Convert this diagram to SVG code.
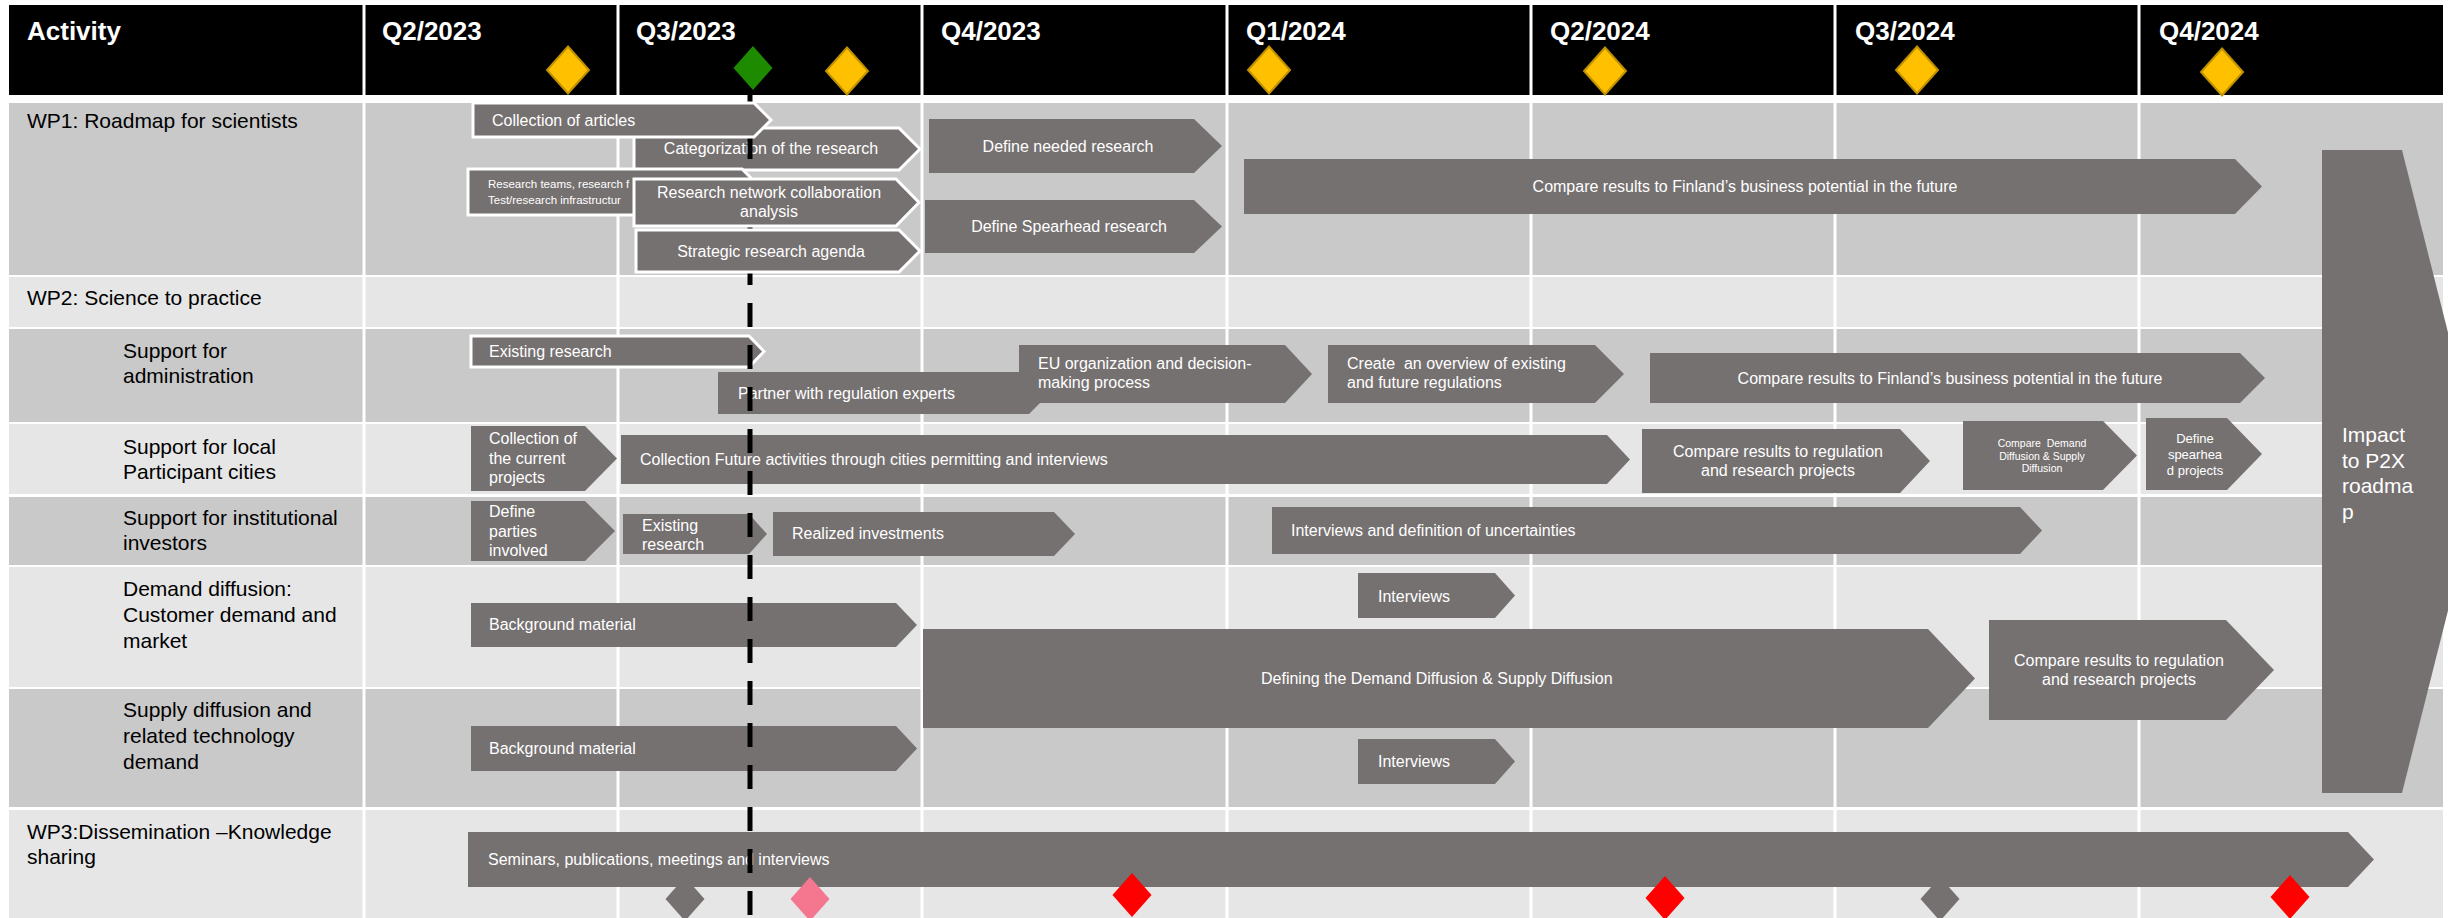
<svg xmlns="http://www.w3.org/2000/svg" xmlns:xlink="http://www.w3.org/1999/xlink" width="2448" height="918" viewBox="0 0 2448 918">
<style>
.hdr{font-family:"Liberation Sans",Arial,sans-serif;font-weight:bold;font-size:26px;fill:#fff}
.lbl{font-family:"Liberation Sans",Arial,sans-serif;font-size:21px;fill:#000}
.t{font-family:"Liberation Sans",Arial,sans-serif;font-size:16px;fill:#fff}
.ts{font-family:"Liberation Sans",Arial,sans-serif;font-size:11.5px;fill:#fff}
.c{text-anchor:middle}
.sh{fill:#767171}
.ws{stroke:#fff;stroke-width:3}
.dark{fill:#C9C9C9}
.light{fill:#E6E6E6}
.vl{stroke:#fff;stroke-width:3}
.gold{fill:#FFC000;stroke:#BF9000;stroke-width:2}
.green{fill:#1E8A00}
.red{fill:#FF0000}
.pink{fill:#F4768F}
.grey{fill:#767171}
</style>
<defs>
<path id="dia" d="M0,-23.5 L21,0 L0,23.5 L-21,0 Z"/>
<path id="dia2" d="M0,-22 L19.5,0 L0,22 L-19.5,0 Z"/>
</defs>
<rect width="2448" height="918" fill="#fff"/>
<g id="background">
<rect class="dark" x="9" y="103" width="2434" height="172"/>
<rect class="light" x="9" y="277" width="2434" height="50"/>
<rect class="dark" x="9" y="329" width="2434" height="93"/>
<rect class="light" x="9" y="424" width="2434" height="70"/>
<rect class="dark" x="9" y="497" width="2434" height="68"/>
<rect class="light" x="9" y="567" width="2434" height="120"/>
<rect class="dark" x="9" y="689" width="2434" height="118"/>
<rect class="light" x="9" y="810" width="2434" height="108"/>
<rect x="9" y="5" width="2434" height="90" fill="#000"/>
<g class="vl">
<line x1="364" y1="5" x2="364" y2="918"/>
<line x1="618" y1="5" x2="618" y2="918"/>
<line x1="922" y1="5" x2="922" y2="918"/>
<line x1="1227" y1="5" x2="1227" y2="918"/>
<line x1="1531" y1="5" x2="1531" y2="918"/>
<line x1="1835" y1="5" x2="1835" y2="918"/>
<line x1="2139" y1="5" x2="2139" y2="918"/>
</g>
</g>
<g id="header">
<text class="hdr" x="27" y="40">Activity</text>
<text class="hdr" x="382" y="40">Q2/2023</text>
<text class="hdr" x="636" y="40">Q3/2023</text>
<text class="hdr" x="941" y="40">Q4/2023</text>
<text class="hdr" x="1246" y="40">Q1/2024</text>
<text class="hdr" x="1550" y="40">Q2/2024</text>
<text class="hdr" x="1855" y="40">Q3/2024</text>
<text class="hdr" x="2159" y="40">Q4/2024</text>
</g>
<g id="milestones-top">
<use href="#dia" x="568" y="70" class="gold"/>
<use href="#dia" x="847" y="71" class="gold"/>
<use href="#dia" x="1269" y="70" class="gold"/>
<use href="#dia" x="1605" y="71" class="gold"/>
<use href="#dia" x="1917" y="70" class="gold"/>
<use href="#dia" x="2222" y="72" class="gold"/>
<path class="green" d="M753,46 L772.5,68 L753,90 L733.5,68 Z"/>
</g>
<g id="row-labels">
<text class="lbl" x="27" y="128">WP1: Roadmap for scientists</text>
<text class="lbl" x="27" y="305">WP2: Science to practice</text>
<text class="lbl" x="123" y="358">Support for</text>
<text class="lbl" x="123" y="383">administration</text>
<text class="lbl" x="123" y="454">Support for local</text>
<text class="lbl" x="123" y="479">Participant cities</text>
<text class="lbl" x="123" y="525">Support for institutional</text>
<text class="lbl" x="123" y="550">investors</text>
<text class="lbl" x="123" y="596">Demand diffusion:</text>
<text class="lbl" x="123" y="622">Customer demand and</text>
<text class="lbl" x="123" y="648">market</text>
<text class="lbl" x="123" y="717">Supply diffusion and</text>
<text class="lbl" x="123" y="743">related technology</text>
<text class="lbl" x="123" y="769">demand</text>
<text class="lbl" x="27" y="839">WP3:Dissemination –Knowledge</text>
<text class="lbl" x="27" y="864">sharing</text>
</g>
<g id="milestones-behind">
<use href="#dia2" x="685" y="899" class="grey"/>
<use href="#dia2" x="1940" y="899" class="grey"/>
</g>
<g id="n-categorization">
<path class="sh ws" d="M634 128 H899 L920 149 L899 170 H634 Z"/>
<text class="t c" x="771" y="154">Categorization of the research</text>
</g>
<g id="n-define-needed">
<path class="sh" d="M929 119 H1194 L1222 146 L1194 173 H929 Z"/>
<text class="t c" x="1068" y="152">Define needed research</text>
</g>
<g id="n-define-spearhead">
<path class="sh" d="M925 200 H1194 L1222 226.5 L1194 253 H925 Z"/>
<text class="t c" x="1069" y="232">Define Spearhead research</text>
</g>
<g id="n-compare-wp1">
<path class="sh" d="M1244 159 H2235 L2262 186.5 L2235 214 H1244 Z"/>
<text class="t c" x="1745" y="192">Compare results to Finland’s business potential in the future</text>
</g>
<g id="n-existing-admin">
<path class="sh ws" d="M471 336 H749 L764 351.5 L749 367 H471 Z"/>
<text class="t" x="489" y="357">Existing research</text>
</g>
<g id="n-partner">
<path class="sh" d="M718 372 H1029 L1050 393 L1029 414 H718 Z"/>
<text class="t" x="738" y="399">Partner with regulation experts</text>
</g>
<g id="n-eu">
<path class="sh" d="M1019 345 H1285 L1312 374 L1285 403 H1019 Z"/>
<text class="t" x="1038" y="369">EU organization and decision-</text>
<text class="t" x="1038" y="388">making process</text>
</g>
<g id="n-create">
<path class="sh" d="M1328 345 H1595 L1624 374 L1595 403 H1328 Z"/>
<text class="t" x="1347" y="369" xml:space="preserve">Create  an overview of existing</text>
<text class="t" x="1347" y="388">and future regulations</text>
</g>
<g id="n-compare-admin">
<path class="sh" d="M1650 353 H2240 L2265 378 L2240 403 H1650 Z"/>
<text class="t c" x="1950" y="384">Compare results to Finland’s business potential in the future</text>
</g>
<g id="n-collection-current">
<path class="sh" d="M471 426 H585 L617 458.5 L585 491 H471 Z"/>
<text class="t" x="489" y="444">Collection of</text>
<text class="t" x="489" y="464">the current</text>
<text class="t" x="489" y="483">projects</text>
</g>
<g id="n-collection-future">
<path class="sh" d="M621 435 H1607 L1630 459.5 L1607 484 H621 Z"/>
<text class="t" x="640" y="465">Collection Future activities through cities permitting and interviews</text>
</g>
<g id="n-compare-reg1">
<path class="sh" d="M1642 429 H1900 L1930 461 L1900 493 H1642 Z"/>
<text class="t c" x="1778" y="457">Compare results to regulation</text>
<text class="t c" x="1778" y="476">and research projects</text>
</g>
<g id="n-compare-demand">
<path class="sh" d="M1963 421 H2103 L2137 455.5 L2103 490 H1963 Z"/>
<text class="t c" x="2042" y="447" style="font-size:10.5px" xml:space="preserve">Compare  Demand</text>
<text class="t c" x="2042" y="459.5" style="font-size:10.5px">Diffusion &amp; Supply</text>
<text class="t c" x="2042" y="472" style="font-size:10.5px">Diffusion</text>
</g>
<g id="n-define-spearhead-projects">
<path class="sh" d="M2146 418 H2227 L2262 454 L2227 490 H2146 Z"/>
<text class="t c" x="2195" y="443" style="font-size:13px">Define</text>
<text class="t c" x="2195" y="459" style="font-size:13px">spearhea</text>
<text class="t c" x="2195" y="475" style="font-size:13px">d projects</text>
</g>
<g id="n-define-parties">
<path class="sh" d="M471 501 H585 L615 531 L585 561 H471 Z"/>
<text class="t" x="489" y="517">Define</text>
<text class="t" x="489" y="537">parties</text>
<text class="t" x="489" y="556">involved</text>
</g>
<g id="n-existing-inst">
<path class="sh" d="M623 514 H749 L767 534 L749 554 H623 Z"/>
<text class="t" x="642" y="531">Existing</text>
<text class="t" x="642" y="550">research</text>
</g>
<g id="n-realized">
<path class="sh" d="M773 512 H1054 L1075 534 L1054 556 H773 Z"/>
<text class="t" x="792" y="539">Realized investments</text>
</g>
<g id="n-interviews-uncert">
<path class="sh" d="M1272 507 H2020 L2042 530.5 L2020 554 H1272 Z"/>
<text class="t" x="1291" y="536">Interviews and definition of uncertainties</text>
</g>
<g id="n-background-demand">
<path class="sh" d="M471 603 H896 L917 625 L896 647 H471 Z"/>
<text class="t" x="489" y="630">Background material</text>
</g>
<g id="n-interviews-demand">
<path class="sh" d="M1358 573 H1495 L1515 595.5 L1495 618 H1358 Z"/>
<text class="t" x="1378" y="602">Interviews</text>
</g>
<g id="n-defining">
<path class="sh" d="M923 629 H1928 L1975 678.5 L1928 728 H923 Z"/>
<text class="t" x="1261" y="684">Defining the Demand Diffusion &amp; Supply Diffusion</text>
</g>
<g id="n-compare-reg2">
<path class="sh" d="M1989 620 H2226 L2274 670 L2226 720 H1989 Z"/>
<text class="t c" x="2119" y="666">Compare results to regulation</text>
<text class="t c" x="2119" y="685">and research projects</text>
</g>
<g id="n-background-supply">
<path class="sh" d="M471 726 H896 L917 748.5 L896 771 H471 Z"/>
<text class="t" x="489" y="754">Background material</text>
</g>
<g id="n-interviews-supply">
<path class="sh" d="M1358 739 H1495 L1515 761.5 L1495 784 H1358 Z"/>
<text class="t" x="1378" y="767">Interviews</text>
</g>
<g id="n-seminars">
<path class="sh" d="M468 832 H2348 L2374 859.5 L2348 887 H468 Z"/>
<text class="t" x="488" y="865">Seminars, publications, meetings and interviews</text>
</g>
<g id="n-impact">
<path class="sh" d="M2322 150 H2402 L2483 471.5 L2402 793 H2322 Z"/>
<text class="t" x="2342" y="442" style="font-size:21px">Impact</text>
<text class="t" x="2342" y="467.5" style="font-size:21px">to P2X</text>
<text class="t" x="2342" y="493" style="font-size:21px">roadma</text>
<text class="t" x="2342" y="518.5" style="font-size:21px">p</text>
</g>
<g id="today-marker">
<line x1="750" y1="95" x2="750" y2="918" stroke="#000" stroke-width="5" stroke-dasharray="24 18" stroke-dashoffset="2"/>
</g>
<g id="n-collection-articles">
<path class="sh ws" d="M473 103 H754 L771 120 L754 137 H473 Z"/>
<text class="t" x="492" y="126">Collection of articles</text>
</g>
<g id="n-research-teams">
<path class="sh ws" d="M468 169 H742 L765 192 L742 215 H468 Z"/>
<text class="ts" x="488" y="188">Research teams, research f</text>
<text class="ts" x="488" y="204">Test/research infrastructur</text>
</g>
<g id="n-research-network">
<path class="sh ws" d="M634 179 H896 L919 202.5 L896 226 H634 Z"/>
<text class="t c" x="769" y="198">Research network collaboration</text>
<text class="t c" x="769" y="217">analysis</text>
</g>
<g id="n-strategic">
<path class="sh ws" d="M636 230 H899 L920 251 L899 272 H636 Z"/>
<text class="t c" x="771" y="257">Strategic research agenda</text>
</g>
<g id="milestones-bottom">
<use href="#dia2" x="810" y="899" class="pink"/>
<use href="#dia2" x="1132" y="895" class="red"/>
<use href="#dia2" x="1665" y="898" class="red"/>
<use href="#dia2" x="2290" y="897" class="red"/>
</g>
</svg>
